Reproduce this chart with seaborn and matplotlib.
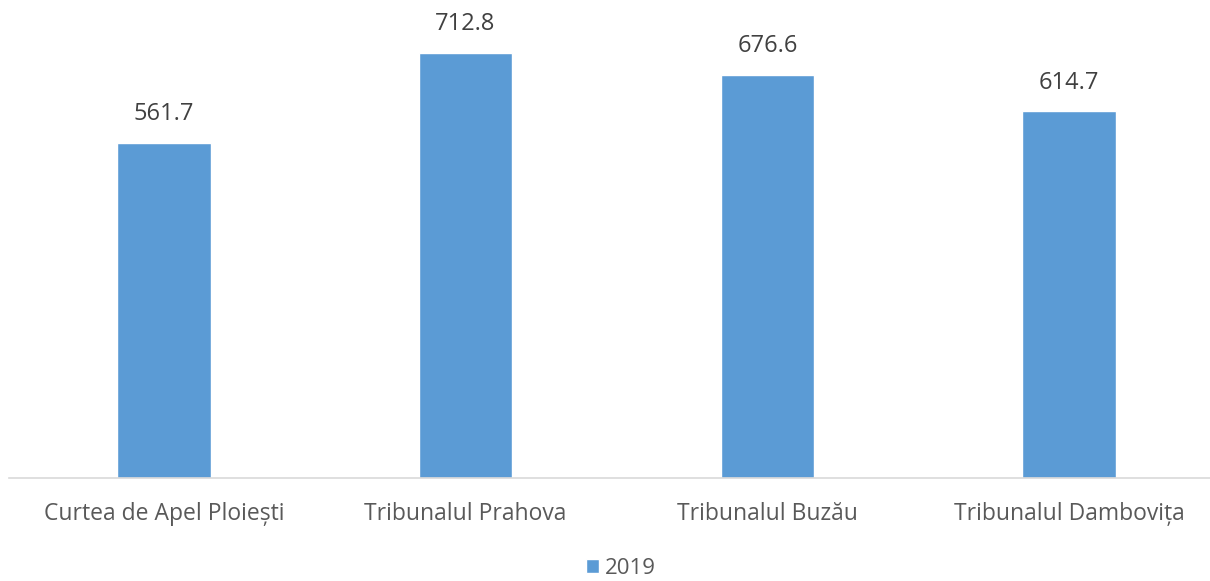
import matplotlib
matplotlib.use("Agg")
import matplotlib.pyplot as plt
import seaborn as sns
import pandas as pd

categories = ["Curtea de Apel Ploiești", "Tribunalul Prahova", "Tribunalul Buzău", "Tribunalul Dambovița"]
values = [561.7, 712.8, 676.6, 614.7]
series_name = "2019"

sns.set_theme(style="white")
plt.rcParams['font.family'] = ['Open Sans', 'DejaVu Sans']

df = pd.DataFrame({"cat": categories, "val": values, "year": [series_name] * len(categories)})

fig = plt.figure(figsize=(12.1, 5.81), dpi=100)
ax = fig.add_axes([9 / 1210, 103 / 581, 1 - 9 / 1210, 477 / 581])

sns.barplot(data=df, x="cat", y="val", hue="year", palette=["#5B9BD5"], width=0.31,
            saturation=1, ax=ax, legend=True)

ax.set_ylim(0, 800)
ax.set_xlim(-0.513, 3.467)
for c in ax.containers:
    ax.bar_label(c, labels=[f"{v:.1f}" for v in values], padding=12, fontsize=17, color="#404040")

ax.set_xlabel("")
ax.set_ylabel("")
ax.set_yticks([])
ax.tick_params(axis="x", length=0, pad=17, labelsize=16.5, labelcolor="#595959")
for s in ["top", "right", "left"]:
    ax.spines[s].set_visible(False)
ax.spines["bottom"].set_color("#D9D9D9")
ax.spines["bottom"].set_linewidth(1.2)

leg = ax.get_legend()
handles = leg.legend_handles
leg.remove()
fig.legend(handles, [series_name], loc="center", bbox_to_anchor=(621 / 1210, 1 - 568 / 581),
           frameon=False, fontsize=16, handlelength=0.6, handleheight=0.6, handletextpad=0.25,
           borderpad=0.2, labelcolor="#595959")

fig.savefig("out.png", dpi=100)
